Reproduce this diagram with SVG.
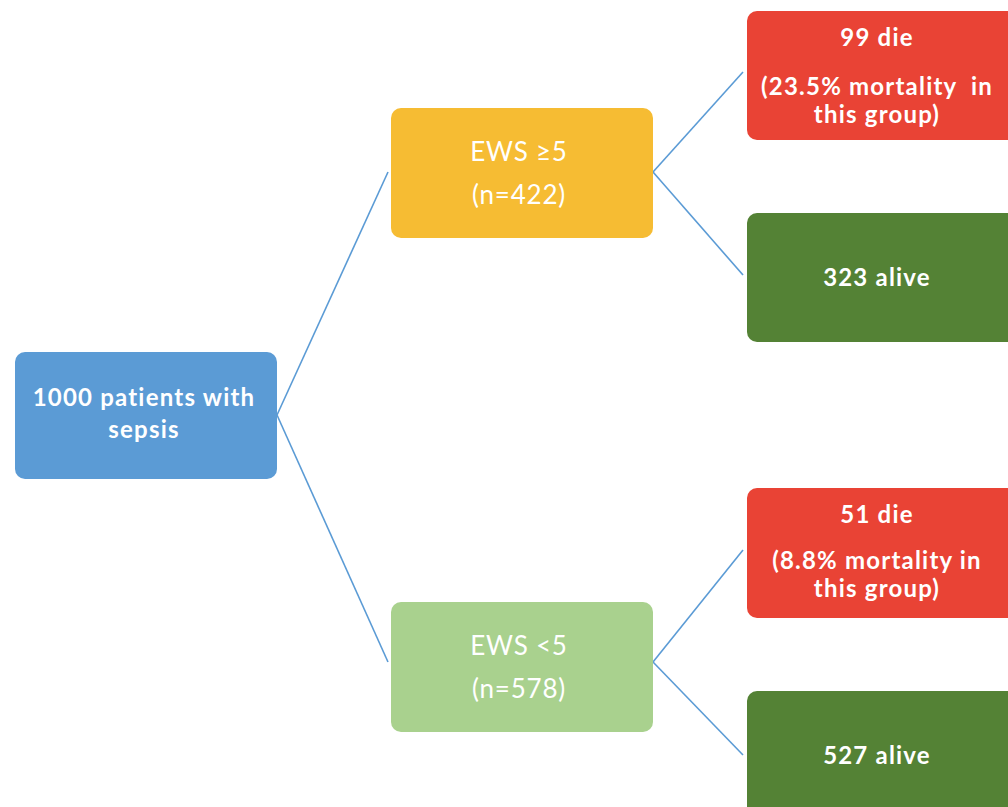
<svg xmlns="http://www.w3.org/2000/svg" width="1008" height="807" viewBox="0 0 1008 807">
<style>
.t{font-family:Lato,"Open Sans","Liberation Sans",sans-serif;fill:#fff;text-anchor:middle}
.b{font-weight:700;font-size:24px;letter-spacing:1.2px}
.r{font-weight:400;font-size:26px;letter-spacing:0.8px}
.ln{stroke:#5B9BD5;stroke-width:1.6;fill:none}
</style>
<rect width="1008" height="807" fill="#fff"/>
<g id="connectors">
<line class="ln" x1="277" y1="415" x2="388" y2="172"/>
<line class="ln" x1="277" y1="415" x2="388" y2="662"/>
<line class="ln" x1="653" y1="172" x2="743" y2="72"/>
<line class="ln" x1="653" y1="172" x2="743" y2="275"/>
<line class="ln" x1="653" y1="662" x2="743" y2="550"/>
<line class="ln" x1="653" y1="662" x2="743" y2="755"/>
</g>
<g id="root">
<rect x="15" y="352" width="262" height="127" rx="10" fill="#5B9BD5"/>
<text class="t b" x="144" y="406">1000 patients with</text>
<text class="t b" x="144" y="438">sepsis</text>
</g>
<g id="ews-high">
<rect x="391" y="108" width="262" height="130" rx="10" fill="#F6BC33"/>
<text class="t r" x="519" y="161">EWS ≥5</text>
<text class="t r" x="519" y="204">(n=422)</text>
</g>
<g id="ews-low">
<rect x="391" y="602" width="262" height="130" rx="10" fill="#A9D18E"/>
<text class="t r" x="519" y="655">EWS &lt;5</text>
<text class="t r" x="519" y="698">(n=578)</text>
</g>
<g id="die-high">
<rect x="747" y="11" width="270" height="129" rx="10" fill="#E94335"/>
<text class="t b" x="877" y="46">99 die</text>
<text class="t b" x="877" y="95" xml:space="preserve">(23.5% mortality  in</text>
<text class="t b" x="877" y="123">this group)</text>
</g>
<g id="alive-high">
<rect x="747" y="213" width="270" height="129" rx="10" fill="#548235"/>
<text class="t b" x="877" y="286">323 alive</text>
</g>
<g id="die-low">
<rect x="747" y="488" width="270" height="130" rx="10" fill="#E94335"/>
<text class="t b" x="877" y="523">51 die</text>
<text class="t b" x="877" y="569">(8.8% mortality in</text>
<text class="t b" x="877" y="597">this group)</text>
</g>
<g id="alive-low">
<rect x="747" y="691" width="270" height="130" rx="10" fill="#548235"/>
<text class="t b" x="877" y="764">527 alive</text>
</g>
</svg>
